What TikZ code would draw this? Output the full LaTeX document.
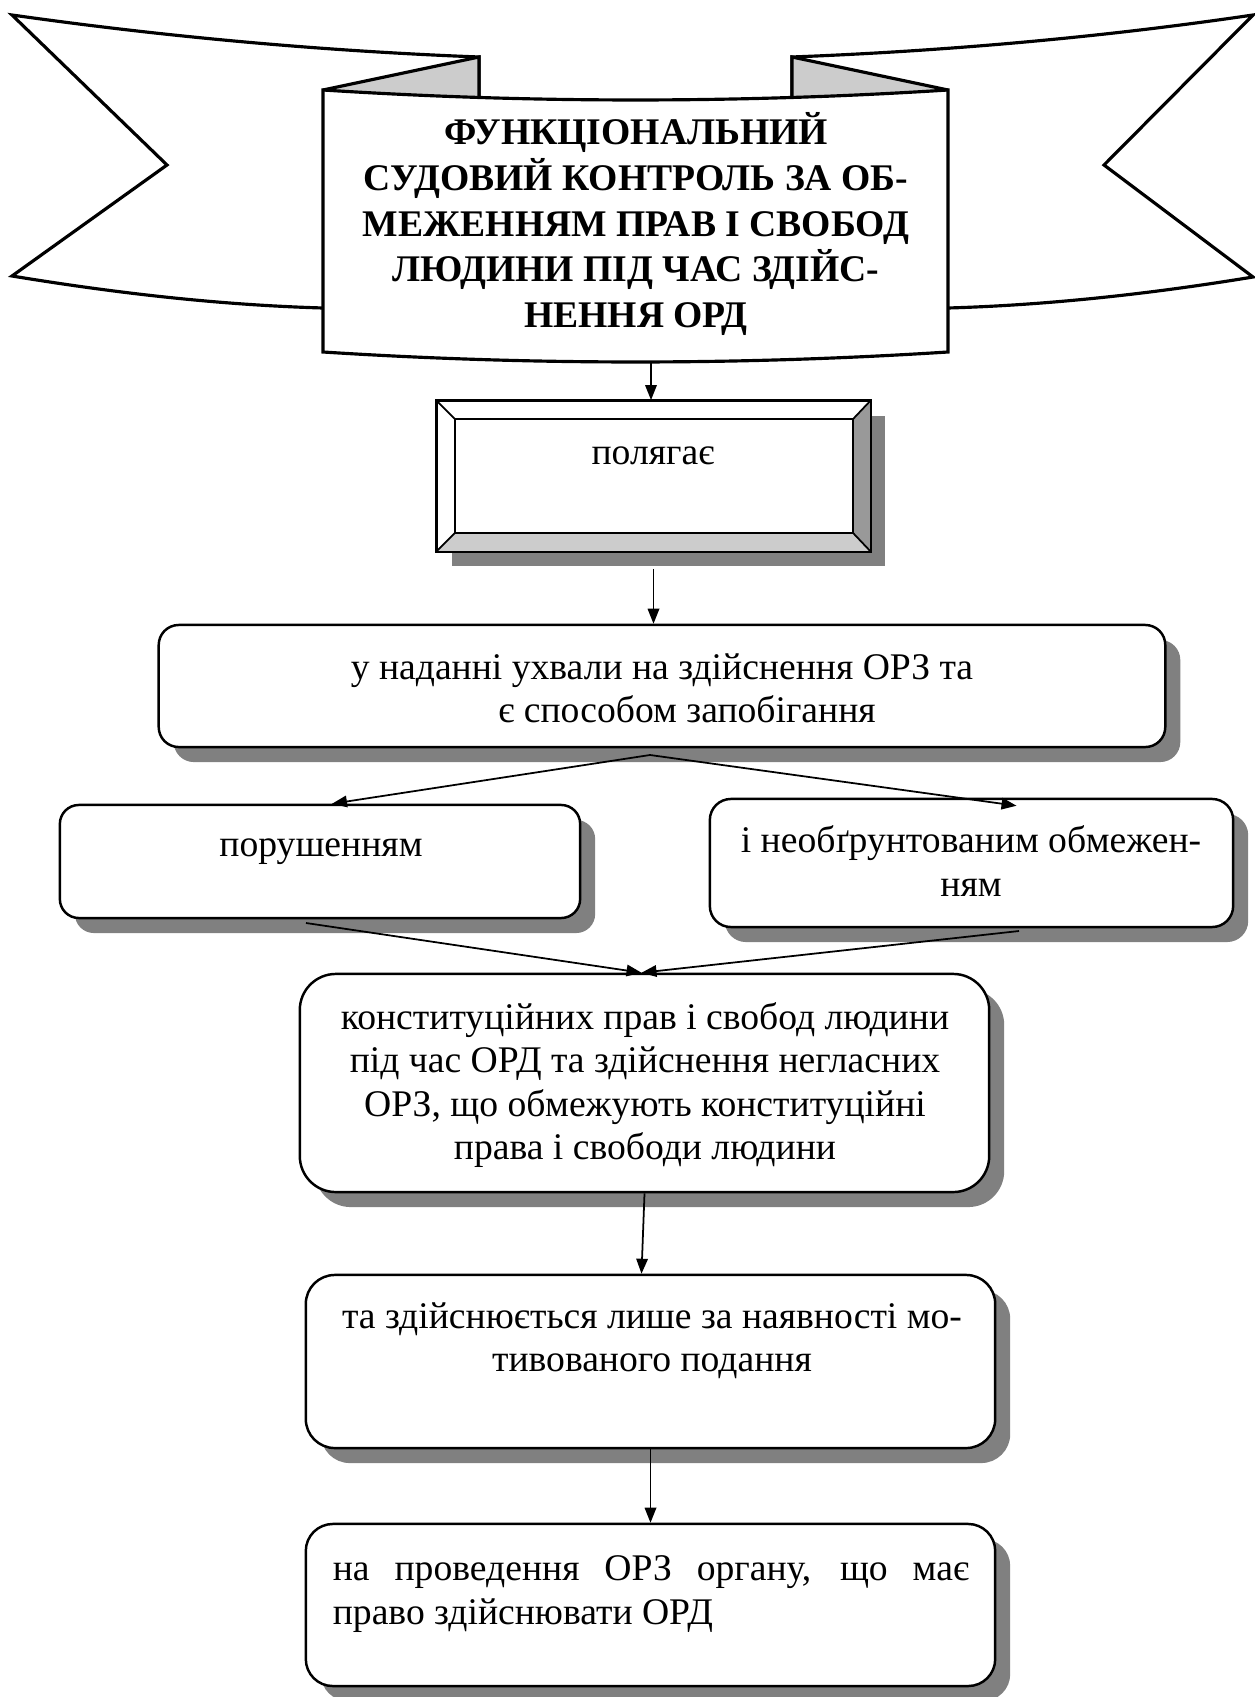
\documentclass[tikz,border=0pt]{standalone}
\usepackage{fontspec}
\setmainfont{Liberation Serif}
\usetikzlibrary{arrows.meta,shadows,calc}
\definecolor{shd}{HTML}{808080}
\definecolor{bevR}{HTML}{999999}
\definecolor{bevB}{HTML}{CCCCCC}
\definecolor{foldc}{HTML}{CCCCCC}
\begin{document}
\begin{tikzpicture}[x=0.01cm,y=-0.01cm,
  bannerline/.style={line width=0.9pt,line join=miter},
  shadowed/.style={drop shadow={opacity=1,fill=shd,shadow xshift=0.15cm,shadow yshift=-0.15cm}},
  rbox/.style={draw,line width=0.7pt,fill=white,rectangle,inner sep=0pt,shadowed},
  txt/.style={inner sep=0pt,align=center,font=\fontsize{10.7pt}{12.3pt}\selectfont},
  ttl/.style={inner sep=0pt,align=center,font=\fontsize{10.7pt}{13pt}\selectfont\bfseries},
  conn/.style={line width=0.5pt,-{Triangle[length=1.5mm,width=1.15mm]}}]
\useasboundingbox[fill=white] (0,0) rectangle (1254,1697);
% ---------- banner ----------
\draw[bannerline,fill=white] (12,15) .. controls (167,37) and (323,51) .. (479,57) -- (479,99)
  -- (400,200) -- (330,307) -- (323,308) .. controls (219,305) and (115,293) .. (12,276)
  -- (167,165) -- cycle;
\draw[bannerline,fill=white] (792,57) .. controls (948,51) and (1104,37) .. (1253,15)
  -- (1104,165) -- (1253,277) .. controls (1156,293) and (1052,305) .. (948,308)
  -- (941,307) -- (871,200) -- (792,99) -- cycle;
\fill[foldc] (479,57) -- (323,90) -- (479,97.5) -- cycle;
\fill[foldc] (792,57) -- (948,90) -- (792,97.5) -- cycle;
\draw[bannerline] (323,90) -- (479,57) -- (479,98);
\draw[bannerline] (948,90) -- (792,57) -- (792,98);
\draw[bannerline,fill=white] (323,90) .. controls (531.3,103.3) and (739.7,103.3) .. (948,90)
  -- (948,352) .. controls (739.7,365.3) and (531.3,365.3) .. (323,352) -- cycle;
\node[ttl] (title) at (636,224) {ФУНКЦІОНАЛЬНИЙ\\СУДОВИЙ КОНТРОЛЬ ЗА ОБ-\\МЕЖЕННЯМ ПРАВ І СВОБОД\\ЛЮДИНИ ПІД ЧАС ЗДІЙС-\\НЕННЯ ОРД};
\coordinate (panelbot) at (651,362);
% ---------- bevel box ----------
\node[draw,line width=0.5pt,fill=white,inner sep=0pt,minimum width=4.33cm,minimum height=1.5cm,shadowed] (bev) at (653.5,476) {};
\coordinate (iNW) at ($(bev.north west)+(19,19)$);
\coordinate (iNE) at ($(bev.north east)+(-18,19)$);
\coordinate (iSE) at ($(bev.south east)+(-18,-19)$);
\coordinate (iSW) at ($(bev.south west)+(19,-19)$);
\fill[bevR] (bev.north east) -- (bev.south east) -- (iSE) -- (iNE) -- cycle;
\fill[bevB] (bev.south west) -- (bev.south east) -- (iSE) -- (iSW) -- cycle;
\draw[line width=0.5pt] (iNW) rectangle (iSE);
\draw[line width=0.5pt] (bev.north west) -- (iNW) (bev.north east) -- (iNE)
  (bev.south east) -- (iSE) (bev.south west) -- (iSW);
\draw[line width=0.5pt] (bev.north west) rectangle (bev.south east);
\node[txt] (tbev) at (653,456) {полягає};
% ---------- rounded boxes ----------
\node[rbox,rounded corners=0.2cm,minimum width=10.06cm,minimum height=1.22cm] (b2) at (662,686) {};
\node[rbox,rounded corners=0.19cm,minimum width=5.2cm,minimum height=1.13cm] (b3) at (320,861.5) {};
\node[rbox,rounded corners=0.21cm,minimum width=5.23cm,minimum height=1.28cm] (b4) at (971.5,863) {};
\node[rbox,rounded corners=0.36cm,minimum width=6.89cm,minimum height=2.18cm] (b5) at (644.5,1083) {};
\node[rbox,rounded corners=0.29cm,minimum width=6.89cm,minimum height=1.73cm] (b6) at (650.5,1361.5) {};
\node[rbox,rounded corners=0.27cm,minimum width=6.89cm,minimum height=1.62cm] (b7) at (650.5,1605) {};
% ---------- connectors ----------
\coordinate (split) at (650,755);
\coordinate (l3) at (306,923);
\coordinate (l4) at (1019,931);
\draw[conn] (panelbot) -- (panelbot |- bev.north);
\draw[conn] ([yshift=-0.17cm]bev.south) -- (bev.south |- b2.north);
\draw[conn] (split) -- ([xshift=0.12cm]b3.north);
\draw[conn] (split) -- ([xshift=0.45cm,yshift=-0.08cm]b4.north);
\draw[conn] (l3) -- ([xshift=-0.03cm]b5.north);
\draw[conn] (l4) -- ([xshift=-0.03cm]b5.north);
\draw[conn] (b5.south) -- ([xshift=-0.09cm]b6.north);
\draw[conn] (b6.south) -- (b6.south |- b7.north);
% ---------- texts ----------
\node[txt] (t2) at (662,688) {у наданні ухвали на здійснення ОРЗ та\\\hspace*{0.5cm}є способом запобігання};
\node[txt] (t3) at (321,852) {порушенням};
\node[txt] (t4) at (971,861) {і необґрунтованим обмежен-\\ням};
\node[txt] (t5) at (645,1085) {конституційних прав і свобод людини\\під час ОРД та здійснення негласних\\ОРЗ, що обмежують конституційні\\права і свободи людини};
\node[txt] (t6) at (652,1341) {та здійснюється лише за наявності мо-\\тивованого подання};
\node[txt,text width=6.36cm,align=justify] (t7) at (651,1594) {на проведення ОРЗ органу, що має\linebreak право здійснювати ОРД};
\end{tikzpicture}
\end{document}
